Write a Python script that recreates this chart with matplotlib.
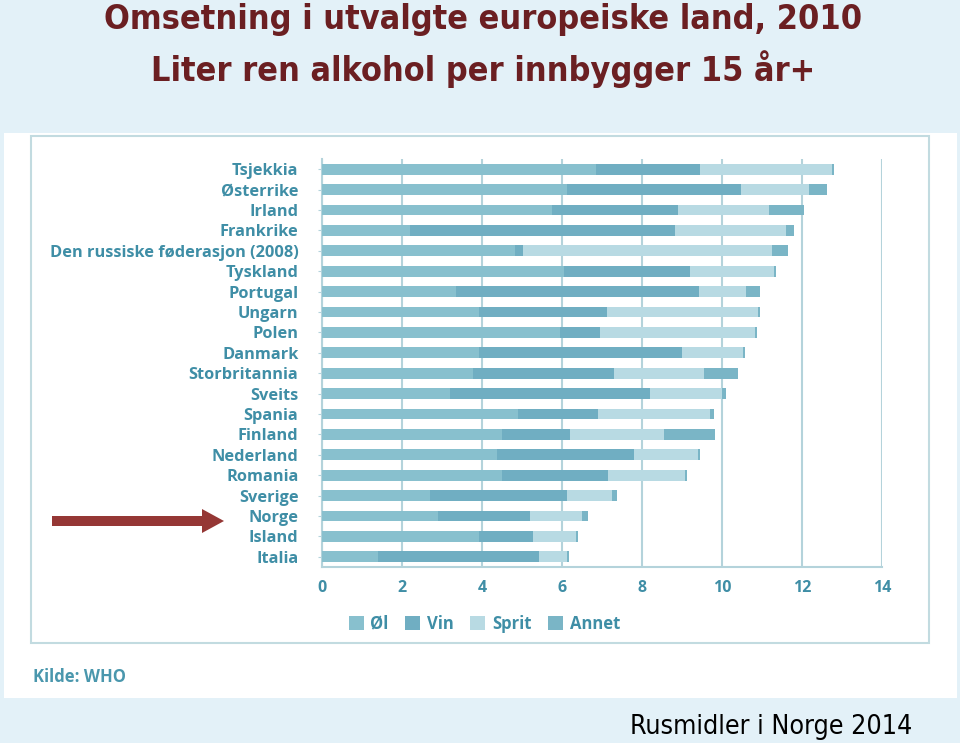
import matplotlib.pyplot as plt
from matplotlib.patches import Rectangle, FancyArrow

countries = ['Tsjekkia', 'Østerrike', 'Irland', 'Frankrike',
             'Den russiske føderasjon (2008)', 'Tyskland', 'Portugal',
             'Ungarn', 'Polen', 'Danmark', 'Storbritannia', 'Sveits',
             'Spania', 'Finland', 'Nederland', 'Romania', 'Sverige',
             'Norge', 'Island', 'Italia']
ol = [6.85, 6.12, 5.75, 2.19, 4.83, 6.06, 3.35, 3.93, 5.94, 3.93,
      3.77, 3.19, 4.90, 4.49, 4.38, 4.49, 2.70, 2.91, 3.93, 1.39]
vin = [2.60, 4.35, 3.15, 6.64, 0.20, 3.13, 6.07, 3.19, 1.00, 5.06,
       3.54, 5.02, 1.99, 1.71, 3.42, 2.66, 3.42, 2.30, 1.34, 4.04]
sprit = [3.30, 1.71, 2.27, 2.76, 6.23, 2.12, 1.19, 3.77, 3.88, 1.53,
         2.25, 1.79, 2.82, 2.36, 1.59, 1.92, 1.14, 1.28, 1.07, 0.69]
annet = [0.05, 0.45, 0.87, 0.22, 0.38, 0.05, 0.33, 0.05, 0.05, 0.05,
         0.83, 0.10, 0.10, 1.27, 0.05, 0.05, 0.12, 0.17, 0.07, 0.05]
series = ['Øl', 'Vin', 'Sprit', 'Annet']
colors = ['#88c0ce', '#70aec2', '#b8dae3', '#7ab5c6']
xticks = [0, 2, 4, 6, 8, 10, 12, 14]

title1 = 'Omsetning i utvalgte europeiske land, 2010'
title2 = 'Liter ren alkohol per innbygger 15 år+'
source = 'Kilde: WHO'
footer = 'Rusmidler i Norge 2014'

label_col = '#3f8ea6'
grid_col = '#b4d3db'

fig = plt.figure(figsize=(9.6, 7.43), dpi=100)
fig.patch.set_facecolor('#e3f1f8')

# white panel and inner frame
fig.add_artist(Rectangle((4 / 960, 1 - 698 / 743), 953 / 960, 565 / 743,
                         transform=fig.transFigure, facecolor='white',
                         edgecolor='none', zorder=0))
fig.add_artist(Rectangle((31 / 960, 1 - 643 / 743), 898 / 960, 507 / 743,
                         transform=fig.transFigure, facecolor='white',
                         edgecolor='#c2dbe0', linewidth=1.5, zorder=0))

ax = fig.add_axes([322 / 960, 1 - 567 / 743, 560 / 960, 408 / 743])
ax.set_facecolor('none')

y = list(range(len(countries)))
left = [0.0] * len(countries)
for name, vals, c in zip(series, [ol, vin, sprit, annet], colors):
    ax.barh(y, vals, left=left, height=0.52, color=c, edgecolor='none',
            label=name, zorder=3)
    left = [l + v for l, v in zip(left, vals)]

ax.set_ylim(len(countries) - 0.5, -0.5)
ax.set_xlim(0, 14)
ax.set_xticks(xticks)
ax.set_yticks(y)
ax.set_yticklabels(countries)
for t in ax.get_xticklabels() + ax.get_yticklabels():
    t.set_family('Open Sans')
    t.set_fontweight('bold')
    t.set_color(label_col)
for t in ax.get_yticklabels():
    t.set_fontsize(11.8)
for t in ax.get_xticklabels():
    t.set_fontsize(11.5)
ax.tick_params(axis='y', length=3, color=grid_col, pad=14)
ax.tick_params(axis='x', length=0, pad=9)
ax.grid(axis='x', color=grid_col, linewidth=1.5, zorder=0)
for s in ['top', 'right']:
    ax.spines[s].set_visible(False)
for s in ['left', 'bottom']:
    ax.spines[s].set_color(grid_col)
    ax.spines[s].set_linewidth(1.5)

leg = ax.legend(loc='upper center', bbox_to_anchor=(0.29, -0.08), ncol=4,
                frameon=False, handlelength=0.9, handleheight=0.9,
                handletextpad=0.4, columnspacing=1.0,
                prop={'family': 'Open Sans', 'weight': 'bold', 'size': 12})
for t in leg.get_texts():
    t.set_color(label_col)

title_font = dict(family='DejaVu Sans', fontstretch='condensed',
                  fontweight='bold', fontsize=24.5, color='#6b1f22')
fig.text(0.503, 1 - 19 / 743, title1, ha='center', va='center', **title_font)
fig.text(0.503, 1 - 69 / 743, title2, ha='center', va='center', **title_font)
fig.text(33 / 960, 1 - 677 / 743, source, ha='left', va='center',
         family='Open Sans', fontweight='bold', fontsize=12, color='#4a97ad')
fig.text(912 / 960, 1 - 727 / 743, footer, ha='right', va='center',
         family='DejaVu Sans', fontstretch='condensed', fontsize=19.2,
         color='black')

fig.add_artist(FancyArrow(52 / 960, 1 - 521 / 743, 150 / 960, 0,
                          width=10 / 743, head_width=24 / 743,
                          head_length=22 / 960, length_includes_head=False,
                          transform=fig.transFigure, color='#953735',
                          linewidth=0))

fig.savefig('out.png', dpi=100, facecolor=fig.get_facecolor())
